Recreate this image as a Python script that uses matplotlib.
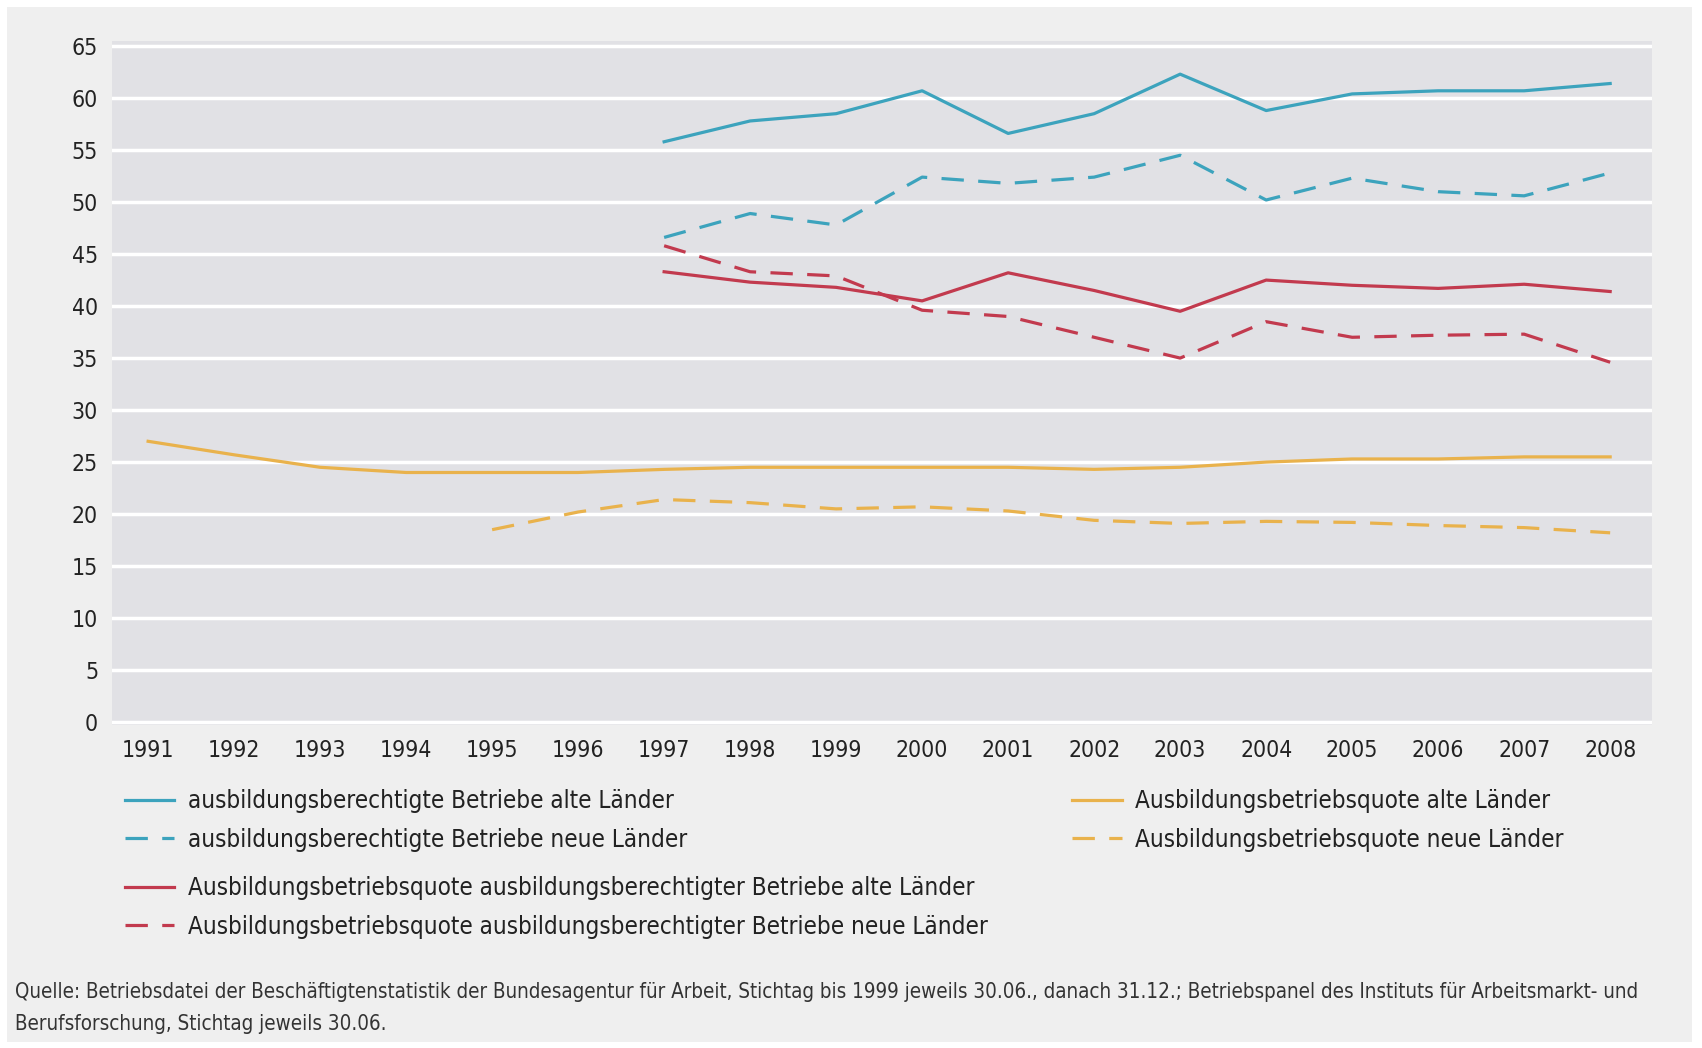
import numpy as np
import matplotlib.pyplot as plt
import matplotlib.patches

plt.rcParams['font.family'] = ['DejaVu Sans']
plt.rcParams['font.stretch'] = 'condensed'

years = list(range(1991, 2009))
years_97 = list(range(1997, 2009))
years_95 = list(range(1995, 2009))

berechtigt_alt = [55.8, 57.8, 58.5, 60.7, 56.6, 58.5, 62.3, 58.8, 60.4, 60.7, 60.7, 61.4]
berechtigt_neu = [46.6, 48.9, 47.8, 52.4, 51.8, 52.4, 54.5, 50.2, 52.3, 51.0, 50.6, 52.8]
quote_ber_alt = [43.3, 42.3, 41.8, 40.5, 43.2, 41.5, 39.5, 42.5, 42.0, 41.7, 42.1, 41.4]
quote_ber_neu = [45.8, 43.3, 42.9, 39.6, 39.0, 37.0, 35.0, 38.5, 37.0, 37.2, 37.3, 34.6]
quote_alt = [27.0, 25.7, 24.5, 24.0, 24.0, 24.0, 24.3, 24.5, 24.5, 24.5, 24.5, 24.3,
             24.5, 25.0, 25.3, 25.3, 25.5, 25.5]
quote_neu = [18.5, 20.2, 21.4, 21.1, 20.5, 20.7, 20.3, 19.4, 19.1, 19.3, 19.2, 18.9, 18.7, 18.2]

labels = ["ausbildungsberechtigte Betriebe alte Länder",
          "ausbildungsberechtigte Betriebe neue Länder",
          "Ausbildungsbetriebsquote ausbildungsberechtigter Betriebe alte Länder",
          "Ausbildungsbetriebsquote ausbildungsberechtigter Betriebe neue Länder",
          "Ausbildungsbetriebsquote alte Länder",
          "Ausbildungsbetriebsquote neue Länder"]

source = ("Quelle: Betriebsdatei der Beschäftigtenstatistik der Bundesagentur für Arbeit, Stichtag bis 1999 jeweils 30.06., "
          "danach 31.12.; Betriebspanel des Instituts für Arbeitsmarkt- und\nBerufsforschung, Stichtag jeweils 30.06.")

blue = "#3ca3bd"
red = "#c23a4e"
orange = "#e9b24c"
lw = 2.3
dash = (7, 4.5)

fig = plt.figure(figsize=(17.02, 10.48), dpi=100)
fig.patch.set_facecolor("white")
fig.patches.append(matplotlib.patches.Rectangle((0.004, 0.006), 0.99, 0.987, transform=fig.transFigure,
                                                facecolor="#efefef", edgecolor="none", zorder=-5))

ax = fig.add_axes([0.0658, 0.308, 0.905, 0.653])
ax.set_facecolor("#e1e1e5")
for s in ax.spines.values():
    s.set_visible(False)

l1, = ax.plot(years_97, berechtigt_alt, color=blue, lw=lw)
l2, = ax.plot(years_97, berechtigt_neu, color=blue, lw=lw, dashes=dash)
l3, = ax.plot(years_97, quote_ber_alt, color=red, lw=lw)
l4, = ax.plot(years_97, quote_ber_neu, color=red, lw=lw, dashes=dash)
l5, = ax.plot(years, quote_alt, color=orange, lw=lw)
l6, = ax.plot(years_95, quote_neu, color=orange, lw=lw, dashes=dash)

ax.set_xlim(1990.58, 2008.49)
ax.set_ylim(-0.3, 65.5)
ax.set_yticks(range(0, 66, 5))
ax.set_xticks(years)
ax.grid(axis="y", color="white", lw=2.5)
ax.set_axisbelow(True)
ax.tick_params(length=0, labelsize=16.5, colors="#222222", pad=10)

leg_kw = dict(frameon=False, fontsize=17.4, handlelength=2.05, handletextpad=0.55,
              labelspacing=0.6, borderaxespad=0, borderpad=0, labelcolor="#222222")
leg1 = fig.legend([l1, l2], labels[0:2], loc="upper left", bbox_to_anchor=(0.0733, 0.247), **leg_kw)
leg2 = fig.legend([l5, l6], labels[4:6], loc="upper left", bbox_to_anchor=(0.63, 0.247), **leg_kw)
leg3 = fig.legend([l3, l4], labels[2:4], loc="upper left", bbox_to_anchor=(0.0733, 0.164), **leg_kw)

fig.text(0.009, 0.063, source, fontsize=14.8, color="#333333", va="top", linespacing=1.75)

fig.savefig("out.png", dpi=100)
